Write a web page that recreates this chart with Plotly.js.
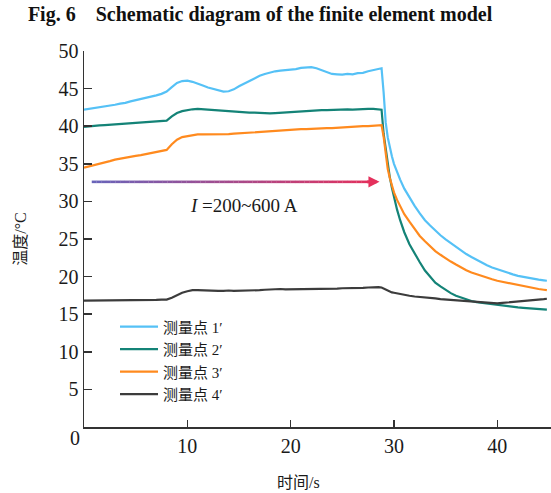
<!DOCTYPE html>
<html>
<head>
<meta charset="utf-8">
<script src="https://cdn.plot.ly/plotly-3.0.1.min.js"></script>
<style>
  html, body { margin: 0; padding: 0; background: #fff; }
  #chart { width: 551px; height: 493px; }
</style>
</head>
<body>
<div id="chart"></div>
<script>
// Sampling times (s)
const timeS = [0,0.5,1,1.5,2,2.5,3,3.5,4,4.5,5,5.5,6,6.5,7,7.5,8,8.5,9,9.5,10,10.5,11,11.5,12,12.5,13,13.5,14,14.5,15,15.5,16,16.5,17,17.5,18,18.5,19,19.5,20,20.5,21,21.5,22,22.5,23,23.5,24,24.5,25,25.5,26,26.5,27,27.5,28,28.5,28.8,29,29.2,29.4,29.6,29.8,30,30.3,30.6,31,31.5,32,32.5,33,33.5,34,34.5,35,35.5,36,36.5,37,37.5,38,38.5,39,39.5,40,40.5,41,41.5,42,42.5,43,43.5,44,44.5,44.8];

// Measured temperatures (°C) at each measuring point
const point1 = [42.2,42.3,42.35,42.5,42.6,42.7,42.85,43.0,43.1,43.3,43.45,43.6,43.75,43.95,44.1,44.3,44.6,45.2,45.75,46.0,46.05,45.9,45.6,45.4,45.15,44.95,44.75,44.6,44.65,44.9,45.3,45.65,46.05,46.4,46.7,46.95,47.15,47.3,47.4,47.45,47.55,47.6,47.75,47.85,47.85,47.7,47.45,47.15,46.95,46.9,46.85,46.95,46.9,47.05,47.1,47.3,47.45,47.6,47.7,44.5,40.5,38.5,37.1,36.0,35.0,33.9,32.9,31.7,30.5,29.4,28.4,27.5,26.8,26.1,25.5,24.95,24.45,23.95,23.5,23.0,22.6,22.2,21.85,21.5,21.2,20.95,20.7,20.5,20.3,20.1,19.95,19.8,19.7,19.6,19.5,19.45];
const point2 = [39.9,40.0,40.05,40.1,40.15,40.2,40.3,40.3,40.35,40.4,40.45,40.5,40.55,40.6,40.6,40.65,40.75,41.3,41.75,42.0,42.15,42.25,42.3,42.25,42.2,42.1,42.05,42.0,41.95,41.9,41.85,41.85,41.8,41.8,41.75,41.75,41.7,41.75,41.8,41.85,41.9,41.95,42.0,42.05,42.1,42.1,42.15,42.15,42.2,42.2,42.2,42.25,42.2,42.25,42.25,42.3,42.3,42.25,42.2,39.0,36.8,35.0,33.2,31.8,30.6,28.9,27.5,25.9,24.3,23.0,21.9,20.8,20.0,19.2,18.7,18.2,17.8,17.45,17.2,16.95,16.75,16.6,16.5,16.4,16.3,16.2,16.1,16.05,15.95,15.9,15.85,15.8,15.75,15.65,15.6,15.6];
const point3 = [34.5,34.65,34.85,35.0,35.2,35.35,35.55,35.7,35.8,35.95,36.05,36.15,36.3,36.45,36.55,36.65,36.85,37.6,38.2,38.55,38.7,38.8,38.9,38.9,38.9,38.85,38.85,38.9,38.95,39.0,39.05,39.1,39.1,39.15,39.2,39.3,39.35,39.4,39.45,39.5,39.5,39.55,39.6,39.6,39.65,39.7,39.7,39.75,39.75,39.8,39.85,39.9,39.9,39.95,40.0,40.0,40.05,40.1,40.15,38.6,36.0,34.3,33.1,32.0,31.2,30.2,29.3,28.3,27.3,26.3,25.4,24.7,24.0,23.4,22.9,22.4,22.0,21.6,21.2,20.85,20.55,20.3,20.05,19.85,19.65,19.45,19.3,19.15,19.0,18.85,18.7,18.55,18.45,18.35,18.25,18.2];
const point4 = [16.8,16.8,16.85,16.8,16.8,16.85,16.85,16.8,16.85,16.85,16.9,16.85,16.9,16.9,16.9,16.95,16.95,17.2,17.55,17.85,18.05,18.2,18.2,18.15,18.1,18.1,18.1,18.1,18.15,18.1,18.1,18.15,18.15,18.2,18.2,18.25,18.3,18.3,18.35,18.3,18.3,18.3,18.35,18.35,18.35,18.3,18.35,18.4,18.4,18.4,18.45,18.45,18.45,18.5,18.5,18.55,18.6,18.6,18.55,18.4,18.3,18.15,18.0,17.9,17.85,17.75,17.65,17.55,17.45,17.35,17.3,17.2,17.15,17.1,17.0,16.95,16.9,16.85,16.8,16.75,16.7,16.65,16.6,16.55,16.5,16.45,16.5,16.55,16.6,16.7,16.75,16.8,16.9,16.95,17.0,17.05];

const seriesNames = ['测量点 1′', '测量点 2′', '测量点 3′', '测量点 4′'];
const seriesValues = [point1, point2, point3, point4];
const seriesColors = ['#55c1f6', '#148377', '#ff8a1e', '#3c3c3c'];

const xTicks = [10, 20, 30, 40];
const yTicks = [5, 10, 15, 20, 25, 30, 35, 40, 45, 50];

const SERIF = 'Liberation Serif, Noto Sans CJK SC, serif';
const CJK = 'Liberation Serif, Noto Sans CJK SC, sans-serif';

const traces = seriesValues.map((vals, i) => ({
  type: 'scatter',
  mode: 'lines',
  name: seriesNames[i],
  x: timeS,
  y: vals,
  line: { color: seriesColors[i], width: 2.2 }
}));

// Current-loading arrow: a colour ramp from blue-violet to crimson
const arrowY = 32.6, arrowX0 = 0.75, arrowX1 = 28.2;
const rampStart = [104, 100, 186], rampEnd = [228, 48, 92];
const shapes = [];
const nSeg = 60;
for (let k = 0; k < nSeg; k++) {
  const f = (k + 0.5) / nSeg;
  const c = rampStart.map((v, j) => Math.round(v + (rampEnd[j] - v) * f));
  shapes.push({
    type: 'line', xref: 'x', yref: 'y',
    x0: arrowX0 + (arrowX1 - arrowX0) * k / nSeg,
    x1: arrowX0 + (arrowX1 - arrowX0) * (k + 1) / nSeg + 0.02,
    y0: arrowY, y1: arrowY,
    line: { color: `rgb(${c[0]},${c[1]},${c[2]})`, width: 2.6 }
  });
}

const annotations = [
  { // arrow head
    x: 28.6, y: arrowY, xref: 'x', yref: 'y',
    ax: -14, ay: 0, text: '', showarrow: true,
    arrowhead: 2, arrowsize: 0.85, arrowwidth: 2.6, arrowcolor: 'rgb(228,48,92)',
    standoff: 0, startstandoff: 0
  },
  {
    x: 15.5, y: 29.5, xref: 'x', yref: 'y',
    xanchor: 'center', yanchor: 'middle',
    text: '<i>I</i> =200~600 A', showarrow: false,
    font: { family: SERIF, size: 19, color: '#1a1a1a' }
  },
  { // shared origin label
    x: -0.019, y: -0.029, xref: 'paper', yref: 'paper',
    xanchor: 'center', yanchor: 'middle',
    text: '0', showarrow: false,
    font: { family: SERIF, size: 20, color: '#1a1a1a' }
  },
  { // x-axis title
    x: 0.46, y: -0.147, xref: 'paper', yref: 'paper',
    xanchor: 'center', yanchor: 'middle',
    text: '时间/s', showarrow: false,
    font: { family: CJK, size: 16, color: '#1a1a1a' }
  }
];

const layout = {
  width: 551,
  height: 493,
  paper_bgcolor: '#ffffff',
  plot_bgcolor: '#ffffff',
  margin: { l: 84, r: 0, t: 51, b: 66 },
  title: {
    text: '<b>Fig. 6\u00a0\u00a0\u00a0\u00a0Schematic diagram of the finite element model</b>',
    font: { family: SERIF, size: 20, color: '#111111' },
    x: 0.472, xanchor: 'center',
    y: 0.972, yref: 'container', yanchor: 'middle'
  },
  xaxis: {
    range: [0, 45.2],
    tickvals: xTicks,
    ticks: 'inside', ticklen: 7, tickwidth: 1.5, tickcolor: '#333',
    showline: true, linecolor: '#333', linewidth: 1.5,
    showgrid: false, zeroline: false,
    tickfont: { family: SERIF, size: 20, color: '#1a1a1a' }
  },
  yaxis: {
    range: [0, 50],
    tickvals: yTicks,
    ticks: 'inside', ticklen: 8, tickwidth: 1.5, tickcolor: '#333',
    showline: true, linecolor: '#333', linewidth: 1.5,
    showgrid: false, zeroline: false,
    tickfont: { family: SERIF, size: 20, color: '#1a1a1a' },
    title: { text: '温度/°C', font: { family: CJK, size: 16, color: '#1a1a1a' }, standoff: 28 }
  },
  legend: {
    x: 0.0664, y: 0.31, xanchor: 'left', yanchor: 'top',
    bgcolor: 'rgba(0,0,0,0)', borderwidth: 0,
    itemwidth: 38,
    font: { family: CJK, size: 15, color: '#1a1a1a' },
    tracegroupgap: 0
  },
  shapes: shapes,
  annotations: annotations,
  showlegend: true
};

Plotly.newPlot('chart', traces, layout, { staticPlot: true, displayModeBar: false });
</script>
</body>
</html>
